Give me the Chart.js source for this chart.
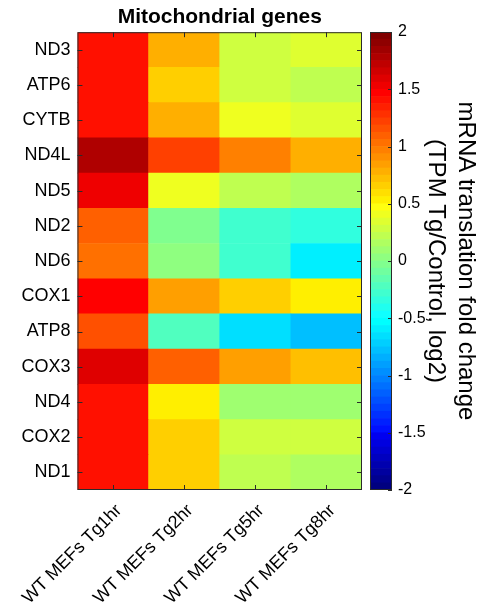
<!DOCTYPE html>
<html><head><meta charset="utf-8">
<script src="https://cdn.jsdelivr.net/npm/chart.js@4.4.0/dist/chart.umd.min.js"></script>
<style>
html,body{margin:0;padding:0;background:#fff;}
#wrap{position:relative;width:482px;height:611px;background:#fff;}
#wrap canvas{position:absolute;left:0;top:0;}
</style></head><body>
<div id="wrap"><canvas id="heat" width="482" height="611"></canvas><canvas id="cbar" width="482" height="611"></canvas></div>
<script>
const chartTitle = 'Mitochondrial genes';
const genes = ['ND3','ATP6','CYTB','ND4L','ND5','ND2','ND6','COX1','ATP8','COX3','ND4','COX2','ND1'];
const conditions = ['WT MEFs Tg1hr','WT MEFs Tg2hr','WT MEFs Tg5hr','WT MEFs Tg8hr'];
const tg1hr = [1.42, 1.42, 1.40, 1.78, 1.53, 1.09, 1.03, 1.46, 1.13, 1.59, 1.40, 1.38, 1.42];
const tg2hr = [0.77, 0.66, 0.81, 1.19, 0.42, -0.01, 0.00, 0.87, -0.19, 1.07, 0.56, 0.64, 0.64];
const tg5hr = [0.30, 0.30, 0.40, 0.95, 0.19, -0.26, -0.30, 0.64, -0.64, 0.83, 0.09, 0.26, 0.21];
const tg8hr = [0.36, 0.19, 0.36, 0.80, 0.13, -0.36, -0.60, 0.54, -0.81, 0.70, 0.08, 0.25, 0.13];
const colorTicks = [-2, -1.5, -1, -0.5, 0, 0.5, 1, 1.5, 2];
const colorbarTitle = ['mRNA translation fold change', '(TPM Tg/Control, log2)'];
const cMin = -2, cMax = 2, nLevels = 64;

const FONT = "'Liberation Sans', Arial, Helvetica, sans-serif";
Chart.defaults.font.family = FONT;
Chart.defaults.color = '#000';

// MATLAB jet(64) colormap
function jetLevel(k) {
  const u = i => (i < 1 || i > 47) ? 0 : (i <= 16 ? i / 16 : (i <= 31 ? 1 : (48 - i) / 16));
  const r = u(k - 24), g = u(k - 8), b = u(k + 7);
  return `rgb(${Math.round(r*255)},${Math.round(g*255)},${Math.round(b*255)})`;
}
function jetColor(v) {
  let k = Math.floor((v - cMin) / (cMax - cMin) * nLevels) + 1;
  k = Math.max(1, Math.min(nLevels, k));
  return jetLevel(k);
}

const series = [tg1hr, tg2hr, tg5hr, tg8hr];
const nRows = genes.length;
const heatSets = genes.map((g, r) => ({
  label: g,
  data: conditions.map(() => 1),
  backgroundColor: series.map(s => jetColor(s[r])),
  borderWidth: 0,
  barPercentage: 1,
  categoryPercentage: 1
})).reverse();

const frameHeat = {
  id: 'frameHeat',
  afterDraw(chart) {
    const {ctx, chartArea: a, scales} = chart;
    ctx.save();
    ctx.strokeStyle = '#2b2b2b';
    ctx.lineWidth = 1;
    ctx.strokeRect(a.left + 0.5, a.top + 0.5, a.right - a.left - 1, a.bottom - a.top - 1);
    ctx.beginPath();
    scales.y.ticks.forEach(t => {
      const y = Math.round(scales.y.getPixelForValue(t.value)) + 0.5;
      ctx.moveTo(a.left, y); ctx.lineTo(a.left + 5, y);
      ctx.moveTo(a.right, y); ctx.lineTo(a.right - 5, y);
    });
    conditions.forEach((c, i) => {
      const x = Math.round(scales.x.getPixelForValue(i)) + 0.5;
      ctx.moveTo(x, a.top); ctx.lineTo(x, a.top + 5);
      ctx.moveTo(x, a.bottom); ctx.lineTo(x, a.bottom - 5);
    });
    ctx.stroke();
    ctx.restore();
  }
};

new Chart(document.getElementById('heat'), {
  type: 'bar',
  data: { labels: conditions, datasets: heatSets },
  options: {
    responsive: false, animation: false,
    layout: { padding: { left: 0, right: 120, top: 0, bottom: 0 } },
    plugins: {
      legend: { display: false }, tooltip: { enabled: false },
      title: { display: true, text: chartTitle, fullSize: false, color: '#000',
        font: { size: 21, weight: 'bold', lineHeight: 1.2 }, padding: { top: 5, bottom: 2 } }
    },
    scales: {
      x: {
        type: 'category', stacked: true,
        grid: { display: false, drawTicks: false }, border: { display: false },
        ticks: { minRotation: 45, maxRotation: 45, padding: 10, labelOffset: 6, color: '#000', font: { size: 18 } },
        afterFit: s => { s.height = 121; }
      },
      y: {
        type: 'linear', stacked: true, min: 0, max: nRows,
        grid: { display: false, drawTicks: false }, border: { display: false },
        afterBuildTicks: s => { s.ticks = genes.map((g, i) => ({ value: i + 0.5 })); },
        ticks: { padding: 7, color: '#000', font: { size: 18 },
          callback: v => genes[nRows - 1 - Math.floor(v)] },
        afterFit: s => { s.width = 72; }
      }
    }
  },
  plugins: [frameHeat]
});

// colour bar
const levelIdx = Array.from({ length: nLevels }, (_, i) => i);
const cbSets = levelIdx.map(i => ({
  data: [[cMin + i * (cMax - cMin) / nLevels, cMin + (i + 1) * (cMax - cMin) / nLevels]],
  backgroundColor: jetLevel(i + 1),
  borderWidth: 0, grouped: false, barPercentage: 1, categoryPercentage: 1
}));

const frameBar = {
  id: 'frameBar',
  afterDraw(chart) {
    const {ctx, chartArea: a, scales} = chart;
    ctx.save();
    ctx.strokeStyle = '#2b2b2b';
    ctx.lineWidth = 1;
    ctx.strokeRect(a.left + 0.5, a.top + 0.5, a.right - a.left - 1, a.bottom - a.top - 1);
    ctx.beginPath();
    colorTicks.forEach(v => {
      const y = Math.round(scales.y.getPixelForValue(v)) + 0.5;
      ctx.moveTo(a.right, y); ctx.lineTo(a.right - 4, y);
    });
    ctx.stroke();
    ctx.restore();
  }
};

new Chart(document.getElementById('cbar'), {
  type: 'bar',
  data: { labels: ['cb'], datasets: cbSets },
  options: {
    responsive: false, animation: false,
    layout: { padding: { left: 370, right: 0, top: 32, bottom: 121 } },
    plugins: { legend: { display: false }, tooltip: { enabled: false }, title: { display: false } },
    scales: {
      x: { type: 'category', display: false },
      y: {
        type: 'linear', position: 'right', min: cMin, max: cMax,
        grid: { display: false, drawTicks: false }, border: { display: false },
        afterBuildTicks: s => { s.ticks = colorTicks.map(v => ({ value: v })); },
        ticks: { padding: 6, color: '#000', font: { size: 16 }, callback: v => String(v) },
        title: { display: true, text: colorbarTitle, color: '#000',
          font: { size: 24, lineHeight: 1.25 }, padding: { top: 1, bottom: 0 } },
        afterFit: s => { s.width = 90; }
      }
    }
  },
  plugins: [frameBar]
});
</script>
</body></html>
